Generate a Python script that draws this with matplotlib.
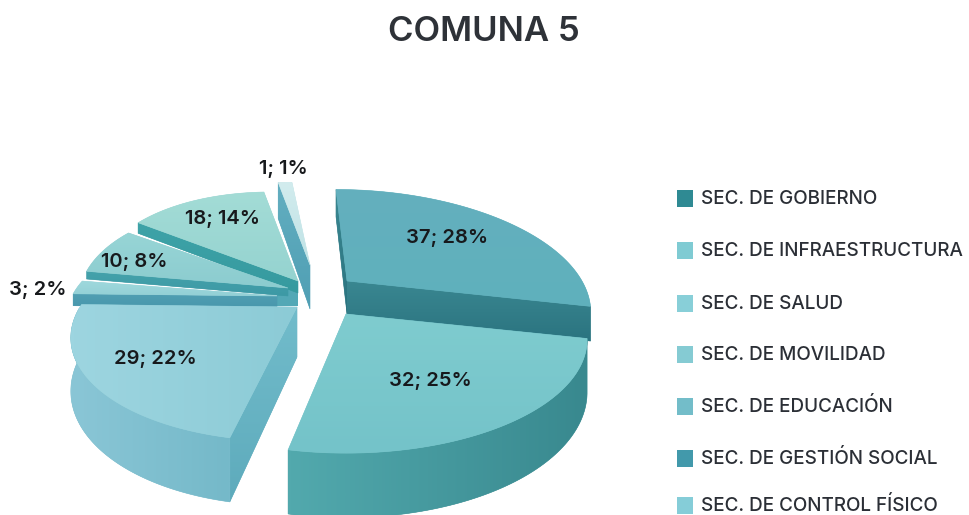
import numpy as np
import matplotlib
matplotlib.use('Agg')
import matplotlib.pyplot as plt
from matplotlib.colors import LinearSegmentedColormap
from matplotlib.patches import Polygon, Rectangle

title = 'COMUNA 5'
names = ['SEC. DE GOBIERNO', 'SEC. DE INFRAESTRUCTURA', 'SEC. DE SALUD', 'SEC. DE MOVILIDAD',
         'SEC. DE EDUCACIÓN', 'SEC. DE GESTIÓN SOCIAL', 'SEC. DE CONTROL FÍSICO']
values = [37, 32, 29, 3, 10, 18, 1]

# colours
legend_colors = ['#2f8a93', '#7fcbd3', '#88cfd8', '#85cbd3', '#73bdc9', '#4299ab', '#85cdd8']
top_colors = [('#64afbe', '#5fb1bc'), ('#7fcccf', '#74c3c9'), ('#9dd5e0', '#8ccbd6'), ('#9ed8dc', '#93d0d6'),
              ('#97d5d6', '#8ccccf'), ('#a3dcd6', '#95d3d0'), ('#d2ecee', '#bfe2e5')]
cut_colors = [('#3a8791', '#2b7480'), ('#4fa6ab', '#4fa6ab'), ('#72bccb', '#5eabbc'), ('#519fb3', '#4897ac'),
              ('#44a2ab', '#3d99a5'), ('#3ea3a8', '#369a9f'), ('#62aec0', '#509fb4')]
arc_colors = [('#3a8791', '#2b7480'), ('#52a9ad', '#39898f'), ('#8ac6d6', '#75b9c9'), ('#519fb3', '#4897ac'),
              ('#44a2ab', '#3d99a5'), ('#3ea3a8', '#369a9f'), ('#62aec0', '#509fb4')]

# 3d look of each exploded slice
apex_x = [347, 346, 297, 277, 288, 298, 310]
apex_y = [281, 314, 307, 296, 288, 281, 265]
rad_x = [235, 235, 217, 205, 208, 206, 350]
rad_y = [112, 108, 104, 92, 103, 109, 101]
shear = [-11, 0, 14, 0, -23, -26, -18]
depth = [33, 50, 50, 12, 8, 12, 44]
persp = 0.224
show_end_cut = [True, False, False, False, False, False, False]
show_start_cut = [True, False, True, True, True, True, True]
show_arc = [False, True, True, False, False, False, False]

label_x = [447, 430, 155, 38, 134, 223, 283]
label_y = [238, 381, 359, 290, 262, 219, 169]
legend_y = [198, 250, 303, 354, 406, 458, 505]

plt.rcParams['font.family'] = ['Inter', 'DejaVu Sans']
fig = plt.figure(figsize=(9.7, 5.15), dpi=100)
ax = fig.add_axes([0, 0, 1, 1])
ax.set_xlim(0, 970)
ax.set_ylim(515, 0)
ax.axis('off')

z = [10]


def project(i, theta, r=1.0, down=False):
    Y = np.sin(theta) * r
    s = 1 / (1 + persp * Y)
    x = apex_x[i] + shear[i] * Y + rad_x[i] * np.cos(theta) * r * s
    y = apex_y[i] - rad_y[i] * np.sin(theta) * r * s
    if down:
        y = y + depth[i] * s
    return np.column_stack([np.atleast_1d(x), np.atleast_1d(y)])


def grad_poly(pts, colors, horizontal=False):
    # polygon filled by a gradient, clipped image on top of a flat patch
    z[0] += 1
    cmap = LinearSegmentedColormap.from_list('g', colors)
    g = np.linspace(0, 1, 64)
    g = g.reshape(1, -1) if horizontal else g.reshape(-1, 1)
    x0, y0 = pts.min(axis=0)
    x1, y1 = pts.max(axis=0)
    patch = Polygon(pts, closed=True, facecolor=colors[0], edgecolor=colors[1], lw=0.4, zorder=z[0])
    ax.add_patch(patch)
    z[0] += 1
    im = ax.imshow(g, cmap=cmap, extent=[x0, x1, y1, y0], origin='upper', aspect='auto',
                   interpolation='bilinear', zorder=z[0])
    im.set_clip_path(patch)


def draw_slice(i, th0, th1):
    theta = np.linspace(th0, th1, 80)
    apex = project(i, 0.0, 0.0)
    apex_low = project(i, 0.0, 0.0, down=True)
    if show_start_cut[i]:
        grad_poly(np.vstack([apex, project(i, th0), project(i, th0, down=True), apex_low]), cut_colors[i])
    if show_end_cut[i]:
        grad_poly(np.vstack([apex, project(i, th1), project(i, th1, down=True), apex_low]), cut_colors[i])
    if show_arc[i]:
        front = theta[np.sin(theta) <= 0]
        grad_poly(np.vstack([project(i, front), project(i, front, down=True)[::-1]]), arc_colors[i],
                  horizontal=True)
    grad_poly(np.vstack([apex, project(i, theta)]), top_colors[i], horizontal=i == 2)


total = sum(values)
cum = np.cumsum([0] + values) / total * 2 * np.pi
starts = np.pi / 2 - cum[:-1]
ends = np.pi / 2 - cum[1:]

# block where the thin back slices meet
z[0] += 1
ax.add_patch(Rectangle((apex_x[3], 285), apex_x[5] - apex_x[3], 21, facecolor='#53a8b6', edgecolor='none', zorder=z[0]))

for i in [0, 5, 4, 3, 6, 1, 2]:
    draw_slice(i, starts[i], ends[i])

for i, v in enumerate(values):
    ax.text(label_x[i], label_y[i], '%d; %d%%' % (v, round(100 * v / total)), ha='center', va='center',
            fontsize=14.5, fontweight='semibold', color='#17191c', zorder=500)

for i, n in enumerate(names):
    ax.add_patch(Rectangle((677, legend_y[i] - 8.5), 16, 17, facecolor=legend_colors[i], edgecolor='none', zorder=500))
    ax.text(701, legend_y[i] + 6, n, ha='left', va='baseline', fontsize=13.6, fontweight='medium',
            color='#2b2f36', zorder=500)

ax.text(484, 32, title, ha='center', va='center', fontsize=25, fontweight='semibold', color='#2e3238', zorder=500)

ax.set_xlim(0, 970)
ax.set_ylim(515, 0)
fig.savefig('out.png', dpi=100)
